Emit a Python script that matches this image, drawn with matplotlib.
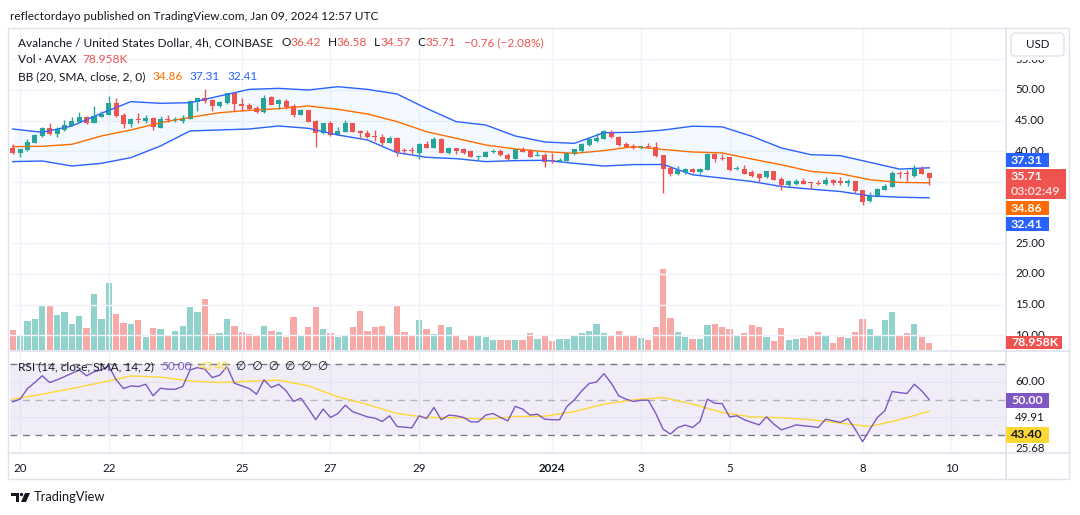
import matplotlib
matplotlib.use("Agg")
import matplotlib.dates as mdates
import matplotlib.pyplot as plt
import pandas as pd
from matplotlib.patches import Circle, FancyBboxPatch, Polygon, Rectangle
from matplotlib.transforms import Affine2D, Bbox, blended_transform_factory

# AVAX/USD 4h candles, Dec 19 2023 20:00 -> Jan 09 2024 12:00
opens = [40.49, 39.67, 40.22, 41.41, 42.50, 43.75, 42.83, 43.48, 44.18, 44.73,
         45.54, 44.67, 45.65, 45.98, 47.93, 45.92, 44.40, 45.33, 45.00, 45.38,
         43.86, 45.27, 45.11, 45.00, 45.27, 47.99, 48.64, 48.37, 47.39, 47.83,
         49.46, 47.72, 47.61, 47.07, 46.41, 48.80, 47.72, 48.15, 47.39, 45.98,
         46.74, 44.89, 42.93, 44.57, 42.72, 43.20, 44.57, 43.37, 43.04, 42.50,
         42.28, 41.41, 42.17, 40.27, 40.16, 39.78, 41.20, 40.60, 42.07, 39.78,
         40.54, 40.33, 40.00, 39.08, 39.13, 39.95, 40.11, 39.46, 38.80, 40.43,
         40.22, 39.24, 39.40, 38.59, 38.48, 38.48, 39.57, 40.00, 41.03, 41.74,
         42.01, 43.20, 42.39, 41.20, 40.87, 40.65, 40.80, 40.65, 39.35, 37.32,
         36.28, 36.67, 37.10, 36.56, 36.99, 39.51, 38.96, 39.02, 37.10, 37.16,
         36.56, 36.28, 35.74, 36.72, 35.46, 34.54, 34.70, 35.08, 35.03, 34.81,
         34.59, 35.25, 35.08, 34.75, 35.08, 33.72, 31.91, 32.51, 33.72, 34.15,
         36.45, 36.45, 35.90, 37.10, 36.42]
highs = [41.14, 40.38, 41.96, 42.83, 44.02, 44.67, 44.02, 45.11, 45.65, 46.47,
         45.76, 47.39, 46.63, 49.02, 48.64, 46.20, 45.38, 46.20, 45.87, 45.54,
         45.76, 45.98, 45.65, 45.98, 48.37, 48.64, 50.10, 48.48, 48.26, 49.57,
         49.57, 48.64, 47.83, 47.39, 49.18, 49.02, 48.48, 48.48, 47.72, 46.96,
         46.74, 45.11, 44.67, 45.00, 43.91, 45.11, 44.67, 43.48, 43.48, 43.48,
         42.83, 42.50, 42.28, 40.49, 40.65, 41.30, 41.74, 42.28, 42.12, 40.65,
         40.54, 40.49, 40.22, 39.24, 40.00, 40.33, 40.33, 39.67, 40.43, 40.65,
         40.33, 40.11, 39.78, 39.78, 38.91, 39.89, 40.43, 41.41, 42.28, 43.04,
         43.48, 43.48, 42.50, 41.52, 41.20, 40.92, 41.30, 41.52, 39.35, 37.54,
         37.54, 37.27, 37.27, 37.27, 39.73, 39.73, 39.62, 39.07, 37.54, 37.81,
         37.00, 36.50, 36.72, 36.72, 35.79, 35.25, 35.46, 35.68, 35.03, 35.30,
         35.79, 35.46, 35.79, 35.46, 35.19, 33.72, 33.44, 33.99, 34.70, 36.72,
         36.72, 36.89, 37.81, 37.65, 36.58]
lows = [39.57, 39.13, 40.11, 41.30, 42.39, 42.66, 42.28, 43.37, 44.13, 44.57,
        44.51, 44.57, 45.54, 45.87, 45.65, 43.86, 44.02, 44.57, 44.67, 43.48,
        43.75, 44.84, 44.84, 44.57, 45.22, 46.52, 47.83, 46.58, 47.28, 47.72,
        46.52, 46.63, 46.85, 46.20, 46.30, 47.50, 46.96, 46.96, 45.54, 45.87,
        44.78, 40.76, 42.83, 42.55, 42.66, 43.10, 43.10, 41.96, 42.12, 41.74,
        41.09, 41.30, 39.24, 39.57, 39.57, 38.80, 40.49, 40.49, 39.67, 39.57,
        39.57, 39.57, 39.02, 38.37, 39.02, 39.67, 39.24, 38.59, 38.70, 39.89,
        39.02, 39.24, 37.39, 38.15, 38.26, 38.37, 39.46, 39.89, 40.92, 41.58,
        41.96, 42.12, 40.92, 40.65, 40.43, 40.43, 40.54, 39.13, 33.26, 35.90,
        36.17, 36.34, 36.45, 36.28, 36.99, 38.20, 38.52, 36.72, 36.89, 36.34,
        35.79, 35.03, 35.68, 35.36, 33.61, 34.10, 34.54, 34.70, 33.83, 34.48,
        34.48, 34.54, 34.54, 34.37, 33.28, 31.31, 31.80, 32.51, 33.61, 34.10,
        35.63, 35.19, 35.79, 36.28, 34.57]
closes = [39.67, 40.38, 41.52, 42.66, 43.75, 42.83, 43.59, 44.29, 45.00, 45.65,
          44.57, 45.76, 46.09, 47.83, 45.76, 44.46, 45.22, 45.16, 45.49, 44.02,
          45.22, 45.11, 45.27, 45.43, 48.26, 48.64, 48.26, 47.39, 48.10, 49.46,
          47.72, 47.45, 46.96, 46.47, 48.64, 47.61, 48.37, 47.28, 45.98, 46.74,
          44.84, 43.04, 44.57, 42.66, 43.37, 44.57, 43.20, 42.93, 42.39, 42.28,
          41.30, 42.23, 39.95, 40.05, 40.00, 41.20, 40.60, 41.96, 39.78, 40.54,
          40.11, 39.78, 39.13, 39.24, 39.89, 40.11, 39.35, 38.70, 40.33, 39.95,
          39.13, 39.40, 38.32, 38.48, 38.64, 39.78, 40.33, 41.20, 42.07, 42.23,
          43.32, 42.28, 41.03, 40.76, 40.54, 40.76, 40.65, 39.24, 37.17, 36.34,
          36.99, 37.16, 36.56, 37.16, 39.56, 38.80, 38.80, 37.00, 37.27, 36.34,
          36.01, 35.63, 36.72, 35.36, 34.43, 35.08, 35.19, 34.70, 34.81, 34.65,
          35.25, 34.81, 34.81, 35.08, 33.55, 31.80, 32.73, 33.88, 34.37, 36.45,
          36.28, 36.28, 37.16, 36.34, 35.71]
volumes_k = [226, 169, 327, 350, 496, 496, 395, 429, 293, 384,
             248, 632, 350, 756, 406, 305, 293, 338, 147, 248,
             237, 158, 214, 271, 485, 429, 575, 180, 192, 350,
             271, 203, 180, 169, 271, 214, 203, 147, 372, 169,
             259, 485, 237, 192, 147, 158, 259, 440, 214, 259,
             271, 158, 508, 203, 158, 338, 237, 180, 282, 259,
             158, 113, 158, 169, 147, 113, 113, 113, 113, 113,
             192, 124, 158, 102, 124, 124, 169, 192, 214, 293,
             192, 169, 214, 158, 158, 135, 113, 259, 914, 361,
             203, 147, 124, 124, 282, 293, 259, 237, 158, 192,
             282, 259, 147, 102, 248, 113, 124, 135, 158, 203,
             158, 79, 147, 135, 203, 350, 237, 169, 338, 429,
             169, 192, 293, 147, 79]
rsi = [48.7, 50.2, 56.2, 59.6, 63.4, 59.6, 61.1, 62.9, 64.8, 66.7,
       63.4, 65.6, 66.7, 68.9, 61.1, 56.2, 57.7, 57.3, 58.6, 52.1,
       56.4, 55.8, 55.8, 57.3, 66.7, 68.0, 67.1, 62.4, 63.7, 68.6,
       59.2, 57.7, 56.2, 53.0, 61.1, 56.8, 58.6, 54.9, 48.9, 50.8,
       44.9, 38.6, 44.6, 39.9, 42.1, 46.8, 43.1, 41.7, 40.2, 39.5,
       37.6, 40.8, 34.8, 34.4, 34.0, 40.8, 39.3, 45.5, 38.6, 41.2,
       40.8, 39.9, 37.4, 37.4, 41.2, 42.1, 39.9, 38.0, 46.1, 44.6,
       41.2, 41.7, 38.9, 38.6, 38.6, 46.1, 49.8, 54.9, 59.0, 59.9,
       64.6, 59.2, 52.1, 50.2, 48.9, 49.6, 49.6, 42.3, 33.3, 30.5,
       34.2, 35.6, 34.2, 37.6, 50.2, 47.9, 47.7, 40.2, 40.8, 38.6,
       37.1, 35.7, 40.2, 36.1, 32.9, 34.2, 35.7, 35.2, 34.8, 34.2,
       38.9, 38.0, 37.1, 39.3, 33.3, 26.2, 33.3, 39.9, 43.6, 54.5,
       53.9, 53.4, 58.6, 54.9, 50.0]

# smoother lines read every 4th candle
line_idx = list(range(0, 125, 4))
bb_upper = [43.64, 43.10, 44.13, 46.20, 48.10, 47.83, 47.93, 49.02, 50.10, 50.27,
            50.00, 50.54, 50.10, 49.35, 47.00, 44.84, 44.29, 42.50, 41.52, 41.30,
            43.04, 43.10, 43.46, 44.10, 43.99, 42.46, 40.55, 39.45, 39.29, 38.20,
            37.10, 37.31]
bb_basis = [40.76, 40.82, 41.14, 42.50, 43.48, 44.67, 45.54, 46.30, 46.68, 46.96,
            47.39, 46.85, 46.09, 44.84, 43.20, 42.12, 41.03, 40.38, 39.95, 39.67,
            40.11, 40.76, 40.30, 39.89, 39.73, 38.74, 37.81, 36.72, 36.34, 35.36,
            34.92, 34.86]
bb_lower = [38.32, 38.42, 37.60, 38.04, 38.97, 40.87, 43.32, 43.48, 43.64, 44.13,
            43.75, 42.66, 41.85, 39.78, 39.02, 38.80, 38.32, 38.48, 38.53, 38.04,
            37.60, 37.83, 37.85, 36.17, 35.63, 35.08, 34.26, 33.83, 33.44, 32.73,
            32.51, 32.41]
rsi_ma = [50.2, 53.0, 56.2, 59.6, 63.3, 62.6, 60.5, 59.6, 60.3, 60.9,
          57.7, 51.5, 47.2, 42.1, 39.9, 39.7, 38.9, 40.4, 40.6, 43.2,
          47.4, 49.8, 51.1, 47.4, 42.7, 40.2, 39.7, 38.6, 36.7, 34.8,
          38.6, 43.4]

tick_days = ["2023-12-20", "2023-12-22", "2023-12-25", "2023-12-27", "2023-12-29",
             "2024-01-01", "2024-01-03", "2024-01-05", "2024-01-08", "2024-01-10"]
tick_labels = ["20", "22", "25", "27", "29", "2024", "3", "5", "8", "10"]
price_ticks = [55, 50, 45, 40, 25, 20, 15, 10]
rsi_ticks = [60, 40, 22.4]
rsi_tick_labels = ["60.00", "49.91", "25.68"]

GREEN, RED = "#26a69a", "#ef5350"
GREEN_V, RED_V = "#92d2cc", "#f7a9a7"
BLUE, ORANGE = "#2962ff", "#ff6d00"
PURPLE, YELLOW = "#7e57c2", "#fdd835"
TXT, GRID, BORDER = "#131722", "#f0f3fa", "#e0e3eb"
FS = 8.3

plt.rcParams["font.family"] = ["Lato", "DejaVu Sans"]

W, H = 1080, 515
fig = plt.figure(figsize=(W / 100, H / 100), dpi=100)
pix = Affine2D().scale(1 / W, -1 / H).translate(0, 1) + fig.transFigure


def rect(left, top, right, bottom):
    return [left / W, 1 - bottom / H, (right - left) / W, (bottom - top) / H]


def clip_rows(top, bottom):
    # display coords are plain pixels here (dpi 100), y measured from the bottom
    return Bbox.from_extents(1006, H - bottom, 1069, H - top)


dates = pd.date_range("2023-12-19 20:00", periods=len(opens), freq="4h")
t = mdates.date2num(dates)
step = 1 / 6
t_line = t[line_idx]
x_lo, x_hi = t[0] - 0.365 * step, t[0] + 134.27 * step
ticks = mdates.date2num(pd.to_datetime(tick_days))
up = [c >= o for o, c in zip(opens, closes)]

# volume (overlay at the bottom of the price pane)
ax_vol = fig.add_axes(rect(10, 29, 1005, 350))
ax_vol.bar(t, volumes_k, width=0.85 * step, color=[GREEN_V if u else RED_V for u in up], lw=0)
ax_vol.set_ylim(0, 321 * 11.28)
ax_vol.set_xlim(x_lo, x_hi)
ax_vol.axis("off")

# price pane
ax = fig.add_axes(rect(10, 29, 1005, 350))
ax.patch.set_visible(False)
ax.set_xlim(x_lo, x_hi)
ax.set_ylim(7.59, 59.95)
ax.fill_between(t_line, bb_lower, bb_upper, color="#2196f3", alpha=0.05, lw=0)
ax.plot(t_line, bb_upper, color=BLUE, lw=1)
ax.plot(t_line, bb_lower, color=BLUE, lw=1)
ax.plot(t_line, bb_basis, color=ORANGE, lw=1)
cols = [GREEN if u else RED for u in up]
ax.vlines(t, lows, highs, colors=cols, lw=1)
body_lo = [min(o, c) for o, c in zip(opens, closes)]
body_h = [max(abs(c - o), 0.17) for o, c in zip(opens, closes)]
ax.bar(t, body_h, bottom=body_lo, width=0.68 * step, color=cols, lw=0)
ax.set_yticks(range(10, 60, 5))
ax.set_xticks(ticks)
ax.grid(True, color=GRID, lw=1)
ax.set_axisbelow(True)
ax.tick_params(length=0, labelleft=False, labelbottom=False)
for s in ax.spines.values():
    s.set_visible(False)

# price scale labels; the ones sitting under a value box are cut like in the app
price_clip = {55: clip_rows(59.5, 70), 40: clip_rows(140, 152.5), 10: clip_rows(325, 335.5)}
tr_price = blended_transform_factory(pix, ax.transData)
for v in price_ticks:
    txt = fig.text(1015, v, f"{v:.2f}", transform=tr_price, color=TXT, fontsize=FS,
                   va="center", ha="left", zorder=3)
    if v in price_clip:
        txt.set_clip_box(price_clip[v])
        txt.set_clip_on(True)

# RSI pane
ax_rsi = fig.add_axes(rect(10, 352, 1005, 452))
ax_rsi.set_xlim(x_lo, x_hi)
ax_rsi.set_ylim(20.4, 76.8)
ax_rsi.axhspan(30, 70, color=PURPLE, alpha=0.1, lw=0)
for lvl, a in [(70, 1), (50, 0.5), (30, 1)]:
    ax_rsi.axhline(lvl, color="#787b86", alpha=a, lw=1, dashes=(5, 4))
ax_rsi.plot(t_line, rsi_ma, color=YELLOW, lw=1)
ax_rsi.plot(t, rsi, color=PURPLE, lw=1)
ax_rsi.set_yticks([60, 40])
ax_rsi.set_xticks(ticks)
ax_rsi.set_xticklabels(tick_labels)
for lbl in ax_rsi.get_xticklabels():
    if lbl.get_text() == "2024":
        lbl.set_fontweight("bold")
ax_rsi.grid(True, color=GRID, lw=1)
ax_rsi.set_axisbelow(True)
ax_rsi.tick_params(axis="y", length=0, labelleft=False)
ax_rsi.tick_params(axis="x", length=0, pad=8, labelsize=FS, labelcolor=TXT)
for s in ax_rsi.spines.values():
    s.set_visible(False)

tr_rsi = blended_transform_factory(pix, ax_rsi.transData)
for v, s in zip(rsi_ticks, rsi_tick_labels):
    txt = fig.text(1015, v, s, transform=tr_rsi, color=TXT, fontsize=FS,
                   va="center", ha="left", zorder=3)
    txt.set_clip_box(clip_rows(352, 452))
    txt.set_clip_on(True)

# frame lines
fig.add_artist(Rectangle((8, 28), 1061, 451, transform=pix, fill=False, ec=BORDER, lw=1))
for (x0, y0, x1, y1) in [(1006, 28, 1006, 479), (8, 351, 1069, 351), (8, 452.5, 1069, 452.5)]:
    fig.add_artist(plt.Line2D([x0, x1], [y0, y1], transform=pix, color=BORDER, lw=1.2))


# axis value boxes
def value_box(top, bottom, right, fc, lines, tc="white"):
    fig.add_artist(Rectangle((1006, top), right - 1006, bottom - top, transform=pix,
                             fc=fc, ec="none", zorder=4))
    n = len(lines)
    for k, (s, c) in enumerate(lines):
        yy = top + (bottom - top) * (k + 0.5) / n
        fig.text(1011, yy, s, transform=pix, color=c or tc, fontsize=FS + 0.6,
                 fontweight="bold", va="center", ha="left", zorder=5)


value_box(153, 167, 1049, BLUE, [("37.31", None)])
value_box(169, 199, 1066, RED, [("35.71", None), ("03:02:49", "#fcd9d8")])
value_box(201, 215, 1049, ORANGE, [("34.86", None)])
value_box(217, 231, 1049, BLUE, [("32.41", None)])
value_box(336, 349, 1062, RED, [("78.958K", None)])
value_box(393, 408, 1049, PURPLE, [("50.00", None)])
value_box(427, 443, 1049, YELLOW, [("43.40", TXT)])

fig.add_artist(FancyBboxPatch((1011, 33), 53, 23, boxstyle="round,pad=0,rounding_size=4",
                              transform=pix, fc="white", ec=BORDER, lw=1, zorder=4))
fig.text(1037.5, 45, "USD", transform=pix, color=TXT, fontsize=FS, ha="center",
         va="center", zorder=5)

# legends (text runs placed one after another)
renderer = fig.canvas.get_renderer()
LFS = 8.6


def runs(x, y, parts):
    for s, c, gap in parts:
        x += gap
        txt = fig.text(x, y, s, transform=pix, color=c, fontsize=LFS,
                       va="baseline", ha="left", zorder=5)
        x = txt.get_window_extent(renderer).x1


runs(10, 20, [("reflectordayo published on TradingView.com, Jan 09, 2024 12:57 UTC", TXT, 0)])
runs(18, 46, [("Avalanche / United States Dollar, 4h, COINBASE", TXT, 0),
              ("O", TXT, 8), ("36.42", RED, 0), ("H", TXT, 7), ("36.58", RED, 0),
              ("L", TXT, 7), ("34.57", RED, 0), ("C", TXT, 7), ("35.71", RED, 0),
              ("\u22120.76 (\u22122.08%)", RED, 8)])
runs(18, 63, [("Vol \u00b7 AVAX", TXT, 0), ("78.958K", RED, 6)])
runs(18, 80, [("BB (20, SMA, close, 2, 0)", TXT, 0), ("34.86", ORANGE, 7),
              ("37.31", BLUE, 7), ("32.41", BLUE, 7)])
runs(18, 370, [("RSI (14, close, SMA, 14, 2)", TXT, 0), ("50.00", PURPLE, 7),
               ("43.40", YELLOW, 7), ("\u2205  \u2205  \u2205  \u2205  \u2205  \u2205", TXT, 7)])

# TradingView mark
fig.add_artist(Polygon([(11, 493), (19, 493), (19, 502), (15.5, 502), (15.5, 496), (11, 496)],
                       closed=True, transform=pix, fc=TXT, ec="none"))
fig.add_artist(Circle((21.5, 494.5), 1.7, transform=pix, fc=TXT, ec="none"))
fig.add_artist(Polygon([(25, 493), (30, 493), (26, 502), (21, 502)], closed=True,
                       transform=pix, fc=TXT, ec="none"))
fig.text(34, 501, "TradingView", transform=pix, color=TXT, fontsize=9.3, va="baseline")

fig.savefig("out.png", dpi=100, facecolor="white")
